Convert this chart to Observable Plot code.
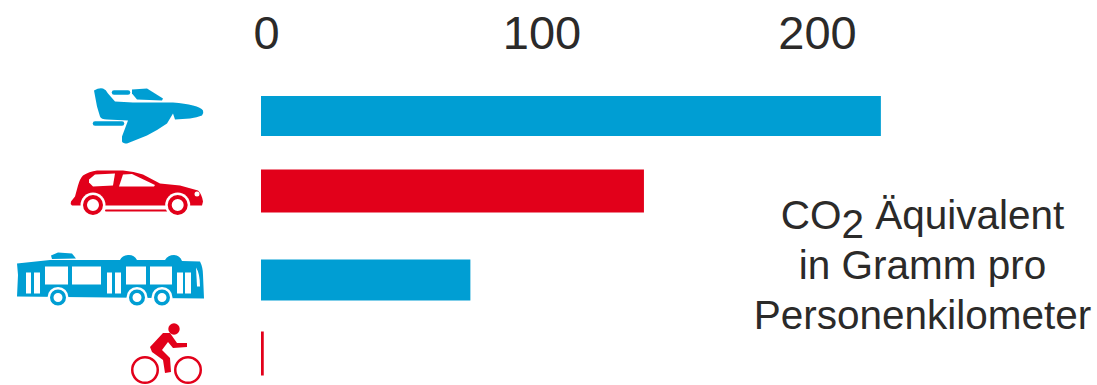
<!DOCTYPE html>
<html>
<head>
<meta charset="utf-8">
<script src="https://cdn.jsdelivr.net/npm/d3@7"></script>
<script src="https://cdn.jsdelivr.net/npm/@observablehq/plot@0.6"></script>
<style>
  html, body { margin: 0; padding: 0; background: #fff; }
  svg { display: block; }
</style>
</head>
<body>
<script>
// Verkehrsmittel von oben nach unten und ihre Emissionen
const modes = ["Flugzeug", "Auto", "Bus", "Fahrrad"];
const co2Values = [225, 139, 76, 1];
const xTicks = [0, 100, 200];
const noteLines = ["Äquivalent", "in Gramm pro", "Personenkilometer"];

const BLUE = "#009ed3", RED = "#e2001a", INK = "#2b2a29", FONT = "Liberation Sans, sans-serif";
const rowCenters = [115.5, 190.5, 279.5, 353];
const rowThickness = [40, 43, 41, 44];
const bars = modes.map((mode, row) => ({mode, row, value: co2Values[row]}));

// Piktogramme: Pfade in Symbolkoordinaten, Ursprung links auf Höhe der Zeilenmitte
const icons = [
  {row: 0, left: 93, fill: BLUE, parts: [
    "M1,-25 Q6,-28 10,-27 Q13,-26 15,-22 L22,-14 L40,-13 L80,-13 Q92,-12 100,-10 Q108,-8 110,-5 Q111,-2 109,0 Q104,2 97,3 L82,4 L80,-2 L74,8 Q64,15 54,20 L34,28 Q30,28 29,26 L29,21 L35,5 L14,4 Q8,4 7,1 L4,-9 Z",
    "M39,-26 L54,-27 L70,-17 L69,-15 L44,-16 L39,-22 Z"
  ], strokes: [["M21,-23 H35", 4.5], ["M2,8 H29", 4.5]]},
  {row: 1, left: 70, fill: RED, parts: [
    "M1,11 L5,6 L8,-5 Q10,-12 13,-15 Q19,-19 27,-20 L53,-20 Q64,-19 73,-16 L90,-7 L110,-5 L128,0 Q132,4 133,11 L132,15 L12,15 L2,15 Q0,13 1,11 Z"
  ], holes: [
    "M19,-11 L25,-16 L45,-17 L43,-5 L23,-4 L19,-8 Z",
    "M49,-4 L53,-16 L62,-16.5 L85,-5.5 L84,-4 Z",
    "M124.5,3.5 a2.5,2.5 0 1,0 5,0 a2.5,2.5 0 1,0 -5,0 Z"
  ], strokes: [["M36,20 H97", 2]], rings: [[23, 14.5, 10, 4], [107.7, 14.5, 10, 4]]},
  {row: 2, left: 16, fill: BLUE, parts: [
    "M1,-16 L34,-19.5 L104,-19.5 Q106,-24 112,-24.5 Q118,-25 121,-19.5 L149,-19.5 Q152,-24.5 158,-24.5 Q164,-24 166,-18.5 L184,-18 Q187,-12 187,-4.5 L188,19 L1,17 L2,-4.5 Z",
    "M35,-24 L42,-27 L56,-26 L60,-21 L36,-20.5 Z"
  ], holes: [
    "M10,-7 h5 v21 h-5 Z M18,-7 h6 v21 h-6 Z",
    "M29,-13 h23 v18 h-23 Z M56,-13 h29 v18 h-29 Z",
    "M91,-7 h5 v21 h-5 Z M99,-7 h6 v21 h-6 Z",
    "M110,-13 h20 v18 h-20 Z M134,-13 h22 v18 h-22 Z",
    "M161,-7 h6 v21 h-6 Z M169,-7 h6 v21 h-6 Z",
    "M180,-12 Q184,-6 184,7 L181,7 Z"
  ], rings: [[42, 18, 8, 3.5], [121, 18, 8, 3.5], [146, 18, 8, 3.5]]},
  {row: 3, left: 131, fill: RED, parts: [
    "M37.3,-24 a5.7,5.7 0 1,0 11.4,0 a5.7,5.7 0 1,0 -11.4,0 Z",
    "M19,-6 L32,-20 L39,-20 L46,-10 L56,-10 L56,-6 L42,-5 L37,-11 L31,-3 L39,5 L40,19 L34,20 L32,7 L21,-1 Z"
  ], rings: [[14, 17, 14, 2.5], [57, 17, 14, 2.5]]}
];

function iconMark(index, {y}) {
  const root = d3.create("svg:g");
  for (const icon of icons) {
    const g = root.append("g").attr("transform", `translate(${icon.left},${y(icon.row)})`);
    for (const d of icon.parts) g.append("path").attr("d", d).attr("fill", icon.fill);
    for (const d of icon.holes ?? []) g.append("path").attr("d", d).attr("fill", "#fff");
    for (const [d, w] of icon.strokes ?? []) {
      g.append("path").attr("d", d).attr("fill", "none").attr("stroke", icon.fill)
        .attr("stroke-width", w).attr("stroke-linecap", "round");
    }
    for (const [cx, cy, r, w] of icon.rings ?? []) {
      if (w > 3) g.append("circle").attr("cx", cx).attr("cy", cy).attr("r", r + 2.5).attr("fill", "#fff");
      g.append("circle").attr("cx", cx).attr("cy", cy).attr("r", r - w / 2)
        .attr("fill", "none").attr("stroke", icon.fill).attr("stroke-width", w);
    }
  }
  return root.node();
}

// Anmerkung rechts neben den Balken; das tiefgestellte 2 behält die volle Schriftgröße
function noteMark() {
  const note = d3.create("svg:g")
    .attr("font-family", FONT).attr("fill", INK).attr("text-anchor", "middle").attr("font-size", 40.5);
  const first = note.append("text").attr("x", 922.5).attr("y", 229);
  first.append("tspan").text("CO");
  first.append("tspan").attr("dy", 9).text("2");
  first.append("tspan").attr("dy", -9).text(" " + noteLines[0]);
  note.append("text").attr("x", 922.5).attr("y", 279).text(noteLines[1]);
  note.append("text").attr("x", 922.5).attr("y", 329).text(noteLines[2]);
  return note.node();
}

const chart = Plot.plot({
  width: 1097,
  height: 385,
  margin: 0,
  style: {background: "#fff", fontFamily: FONT},
  x: {domain: [0, 100], range: [261, 536.5], axis: null},
  y: {type: "linear", domain: d3.range(modes.length), range: rowCenters, axis: null},
  color: {domain: modes, range: [BLUE, RED, BLUE, RED]},
  marks: [
    Plot.ruleY(bars, {
      y: "row", x1: 0, x2: "value", stroke: "mode",
      strokeWidth: (d) => rowThickness[d.row]
    }),
    iconMark,
    Plot.text(xTicks, {
      x: (d) => d, frameAnchor: "top", lineAnchor: "bottom", dy: 48, dx: 5,
      text: (d) => String(d), fontSize: 47, fill: INK
    }),
    noteMark
  ]
});
document.body.appendChild(chart);
</script>
</body>
</html>
